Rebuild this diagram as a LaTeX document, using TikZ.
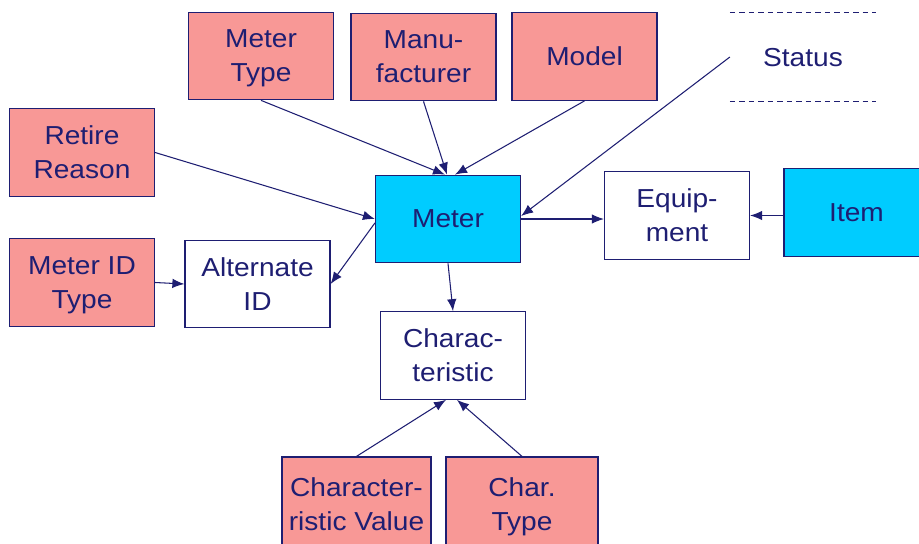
\documentclass[tikz,border=0pt]{standalone}
\usepackage{fontspec}
\setmainfont[FakeStretch=1.08]{Liberation Sans}
\usetikzlibrary{positioning,arrows.meta,calc}
\definecolor{navy}{HTML}{1E1E72}
\definecolor{rose}{HTML}{F89896}
\definecolor{sky}{HTML}{00CCFF}

\begin{document}
\begin{tikzpicture}[
      box/.style={rectangle,draw=navy,line width=0.7pt,align=center,text=navy,
                  font=\fontsize{14.8pt}{19.4pt}\selectfont,inner sep=0pt,text depth=0pt,
                  minimum width=2.9cm,minimum height=1.75cm},
      pk/.style={box,fill=rose},
      bl/.style={box,fill=sky},
      wh/.style={box,fill=white},
      a/.style={draw=navy,line width=0.6pt,-{Latex[length=2.4mm,width=1.9mm]}}]
    \clip (0,0) rectangle (18.38,-10.88);
    \fill[white] (0,0) rectangle (18.38,-10.88);
    % top row
    \node[pk](mt) at (5.22,-1.12){Meter\\Type};
    \node[pk](mf) at (8.47,-1.14){Manu-\\facturer};
    \node[pk](md) at (11.69,-1.13){Model};
    \node[box,draw=none,fill=none](st) at (16.06,-1.14){Status};
    \draw[navy,line width=0.6pt,dash pattern=on 3pt off 2.4pt] (st.north west)--(st.north east);
    \draw[navy,line width=0.6pt,dash pattern=on 3pt off 2.4pt] (st.south west)--(st.south east);
    % middle
    \node[pk](rr) at (1.64,-3.05){Retire\\Reason};
    \node[bl](m) at (8.96,-4.38){Meter};
    \node[wh](eq) at (13.54,-4.31){Equip-\\ment};
    \node[bl](it) at (17.13,-4.25){Item};
    \node[pk](mit) at (1.64,-5.65){Meter ID\\Type};
    \node[wh](aid) at (5.15,-5.68){Alternate\\ID};
    \node[wh](ch) at (9.06,-7.11){Charac-\\teristic};
    % bottom row, cut by the lower edge
    \node[pk,minimum width=2.98cm,minimum height=1.9cm](cv) at (7.13,-10.09){Character-\\ristic Value};
    \node[pk,minimum width=3.04cm,minimum height=1.9cm](ct) at (10.44,-10.09){Char.\\Type};
    % connectors
    \draw[a](mt.south)--([xshift=-0.06cm]m.north);
    \draw[a](mf.south)--([xshift=-0.02cm]m.north);
    \draw[a](md.south)--([xshift=0.14cm]m.north);
    \draw[a](st.west)--([yshift=0.06cm]m.east);
    \draw[a](rr.east)--(m.west);
    \draw[a]([yshift=-0.08cm]m.west)--(aid.east);
    \draw[a](m.east)--(m.east -| eq.west);
    \draw[a](it.west |- eq.east)--(eq.east);
    \draw[a](mit.east)--(aid.west);
    \draw[a](m.south)--(ch.north);
    \draw[a](cv.north)--([xshift=-0.14cm]ch.south);
    \draw[a](ct.north)--([xshift=0.08cm]ch.south);
  \end{tikzpicture}
\end{document}
